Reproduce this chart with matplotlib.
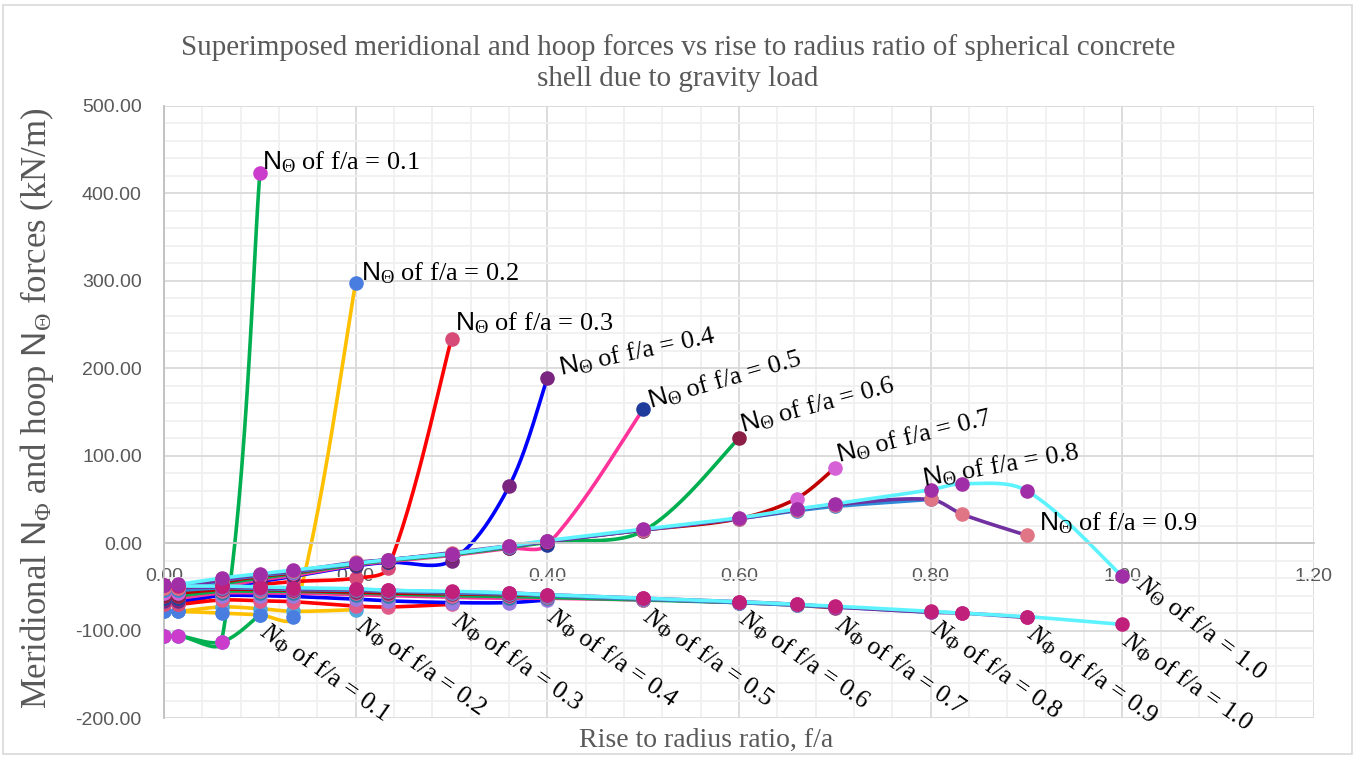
import numpy as np
import matplotlib
matplotlib.use('Agg')
import matplotlib.pyplot as plt
from matplotlib.ticker import MultipleLocator, FormatStrFormatter
from matplotlib.patches import Rectangle

plt.rcParams['font.family'] = ['Liberation Serif', 'DejaVu Serif']
plt.rcParams['mathtext.fontset'] = 'custom'
plt.rcParams['mathtext.rm'] = 'Liberation Serif'
plt.rcParams['mathtext.it'] = 'Liberation Serif:italic'
plt.rcParams['mathtext.sf'] = 'Liberation Sans'
plt.rcParams['mathtext.bf'] = 'Liberation Serif:bold'

# rise to radius ratios of the ten shells
ratios = ['0.1', '0.2', '0.3', '0.4', '0.5', '0.6', '0.7', '0.8', '0.9', '1.0']

# positions (f/a) where the forces were read, shared by every series
x_pts = [0, 0.015, 0.06, 0.1, 0.135, 0.2, 0.234, 0.3, 0.36, 0.4,
         0.5, 0.6, 0.66, 0.7, 0.8, 0.833, 0.9, 1.0]

# hoop force N_theta (kN/m), one row per shell
n_theta = [
    [-106, -106, -113, 423],
    [-78, -78, -80, -82, -85, 298],
    [-70, -70, -58, -48, -44, -40, -28, 234],
    [-66, -66, -52, -44, -38, -26, -22, -20, 65, 189],
    [-63, -63, -50, -42, -37, -25, -21, -14, -6, -2, 153],
    [-60, -60, -47, -40, -35, -24, -20, -13, -5, 1, 14, 120],
    [-57, -57, -45, -38, -34, -23, -19, -12, -4, 2, 15, 28, 51, 86],
    [-54, -54, -43, -37, -33, -23, -19, -12, -4, 2, 15, 28, 37, 42, 50],
    [-51, -51, -42, -36, -32, -22, -19, -11, -3, 2, 15, 28, 38, 44, 50, 33, 9],
    [-48, -47, -40, -35, -31, -23, -19, -12, -3, 3, 16, 29, 39, 45, 61, 68, 60, -38],
]

# meridional force N_phi (kN/m), one row per shell
n_phi = [
    [-106, -106, -113, -82],
    [-78, -78, -73, -75, -78, -76],
    [-70, -70, -65, -66, -67, -72, -73, -70],
    [-66, -66, -60, -60, -61, -64, -66, -68, -68, -65],
    [-63, -63, -57, -57, -57, -59, -60, -62, -63, -63, -65],
    [-60, -60, -55, -55, -55, -57, -58, -60, -61, -62, -65, -68],
    [-57, -57, -53, -53, -54, -56, -57, -58, -59, -60, -64, -68, -71, -74],
    [-54, -54, -51, -52, -53, -54, -55, -57, -58, -60, -64, -68, -71, -73, -79],
    [-51, -51, -50, -51, -52, -53, -54, -56, -57, -59, -63, -67, -70, -73, -79, -80, -85],
    [-48, -49, -49, -50, -51, -52, -54, -55, -57, -59, -63, -67, -70, -72, -78, -80, -84, -93],
]

line_cols = ['#00B050', '#FFC000', '#FF0000', '#0000FF', '#FF3399',
             '#00B050', '#C00000', '#2E8BD8', '#7030A0', '#5CF3FF']
theta_mk = ['#CC3CCC', '#4A7DE0', '#D64B77', '#7A2580', '#1F3C9C',
            '#8C1F45', '#D660D6', '#3E86C8', '#E07585', '#A02EA6']
phi_mk = ['#4FA8DC', '#52A8DC', '#E05A8A', '#9A7BE0', '#2E7FA8',
          '#E0609A', '#8E2A60', '#5B9BD5', '#B03AA0', '#C0207A']

# label placement for the N_theta curves: rotation, offset (px)
theta_rot = [0, 0, 0, 12, 16, 15, 14, 10, 0, -37]
theta_off = [(2, 4), (5, 2), (3, 8), (13, 2), (7, 1), (4, 6), (4, 5), (-7, 13), (12, 5), (12, -10)]

# pixel size of one data unit, used so the smoothing works in screen space
PX_X = 958.0
PX_Y = 0.875


def smooth(xs, ys, steps=30):
    # excel-like smoothed line: cubic bezier, tangents scaled by segment length
    px = np.asarray(xs, float)
    py = np.asarray(ys, float)
    n = len(px)
    d = np.hypot(np.diff(px) * PX_X, np.diff(py) * PX_Y)
    outx, outy = [px[0]], [py[0]]
    t = np.linspace(0, 1, steps)[1:]
    for i in range(n - 1):
        a = i - 1 if i > 0 else i
        b = i + 2 if i + 2 < n else i + 1
        dp = d[i - 1] if i > 0 else d[i]
        dn = d[i + 1] if i + 1 < n - 1 else d[i]
        k1 = d[i] / (dp + d[i]) / 3
        k2 = d[i] / (d[i] + dn) / 3
        c1x = px[i] + (px[i + 1] - px[a]) * k1
        c1y = py[i] + (py[i + 1] - py[a]) * k1
        c2x = px[i + 1] - (px[b] - px[i]) * k2
        c2y = py[i + 1] - (py[b] - py[i]) * k2
        bx = (1 - t) ** 3 * px[i] + 3 * (1 - t) ** 2 * t * c1x + 3 * (1 - t) * t ** 2 * c2x + t ** 3 * px[i + 1]
        by = (1 - t) ** 3 * py[i] + 3 * (1 - t) ** 2 * t * c1y + 3 * (1 - t) * t ** 2 * c2y + t ** 3 * py[i + 1]
        outx.extend(bx)
        outy.extend(by)
    return outx, outy


fig = plt.figure(figsize=(13.57, 7.57), dpi=100)
ax = fig.add_axes([0.1209, 0.0515, 0.8474, 0.8085])

# lines first, markers on top of every line
for i in range(len(ratios)):
    xs = x_pts[:len(n_phi[i])]
    sx, sy = smooth(xs, n_phi[i])
    ax.plot(sx, sy, color=line_cols[i], lw=2.6, zorder=2, solid_capstyle='round')
    xs = x_pts[:len(n_theta[i])]
    sx, sy = smooth(xs, n_theta[i])
    ax.plot(sx, sy, color=line_cols[i], lw=2.6, zorder=2, solid_capstyle='round')

for i in range(len(ratios)):
    ax.plot(x_pts[:len(n_phi[i])], n_phi[i], 'o', ms=10.5, mew=0, color=phi_mk[i], zorder=3)
    ax.plot(x_pts[:len(n_theta[i])], n_theta[i], 'o', ms=10.5, mew=0, color=theta_mk[i], zorder=3)

# labels
for i in range(len(ratios)):
    xe = x_pts[len(n_theta[i]) - 1]
    ye = n_theta[i][-1]
    if i == 9:
        txt = r'$N_{\mathrm{\Theta}}$ of f/a = ' + ratios[i]
    else:
        txt = r'$\mathsf{N}_{\mathrm{\Theta}}$ of f/a = ' + ratios[i]
    ax.annotate(txt, (xe, ye), xytext=(theta_off[i][0] * 0.72, theta_off[i][1] * 0.72),
                textcoords='offset points', ha='left', va='baseline', rotation=theta_rot[i],
                rotation_mode='anchor', fontsize=19, zorder=5)
    xe = x_pts[len(n_phi[i]) - 1]
    ye = n_phi[i][-1]
    ax.annotate(r'$N_{\mathrm{\Phi}}$ of f/a = ' + ratios[i], (xe, ye), xytext=(7, -2),
                textcoords='offset points', ha='left', va='top', rotation=-35,
                rotation_mode='anchor', fontsize=18.5, zorder=5)

ax.set_xlim(0, 1.2)
ax.set_ylim(-200, 500)
ax.xaxis.set_major_locator(MultipleLocator(0.2))
ax.xaxis.set_minor_locator(MultipleLocator(0.04))
ax.yaxis.set_major_locator(MultipleLocator(100))
ax.yaxis.set_minor_locator(MultipleLocator(20))
ax.xaxis.set_major_formatter(FormatStrFormatter('%.2f'))
ax.yaxis.set_major_formatter(FormatStrFormatter('%.2f'))
ax.grid(which='major', color='#d9d9d9', lw=1.3, zorder=0)
ax.grid(which='minor', color='#f0f0f0', lw=1.3, zorder=0)
ax.set_axisbelow(True)

ax.spines['top'].set_visible(False)
ax.spines['right'].set_visible(False)
ax.spines['bottom'].set_position(('data', 0))
ax.spines['bottom'].set_color('#c8c8c8')
ax.spines['left'].set_color('#bfbfbf')
ax.spines['bottom'].set_linewidth(1.3)
ax.spines['left'].set_linewidth(1.3)
ax.tick_params(which='both', length=0)
ax.tick_params(axis='x', pad=18, labelsize=14, labelcolor='#595959')
ax.tick_params(axis='y', pad=16, labelsize=14, labelcolor='#595959')
for lab in ax.get_xticklabels() + ax.get_yticklabels():
    lab.set_fontfamily(['Liberation Sans', 'DejaVu Sans'])

fig.text(0.4996, 0.917, 'Superimposed meridional and hoop forces vs rise to radius ratio of spherical concrete\nshell due to gravity load',
         ha='center', va='center', fontsize=21, color='#595959', linespacing=1.25)
fig.text(0.027, 0.461, r'Meridional $\mathsf{N}_{\mathrm{\Phi}}$ and hoop $\mathsf{N}_{\mathrm{\Theta}}$ forces (kN/m)',
         rotation=90, ha='center', va='center', fontsize=25, color='#595959')
fig.text(0.52, 0.0225, 'Rise to radius ratio, f/a', ha='center', va='center', fontsize=20, color='#595959')

fig.patches.append(Rectangle((0.002, 0.004), 0.994, 0.99, transform=fig.transFigure,
                             fill=False, edgecolor='#d9d9d9', lw=1.2))

fig.savefig('out.png', dpi=100)
